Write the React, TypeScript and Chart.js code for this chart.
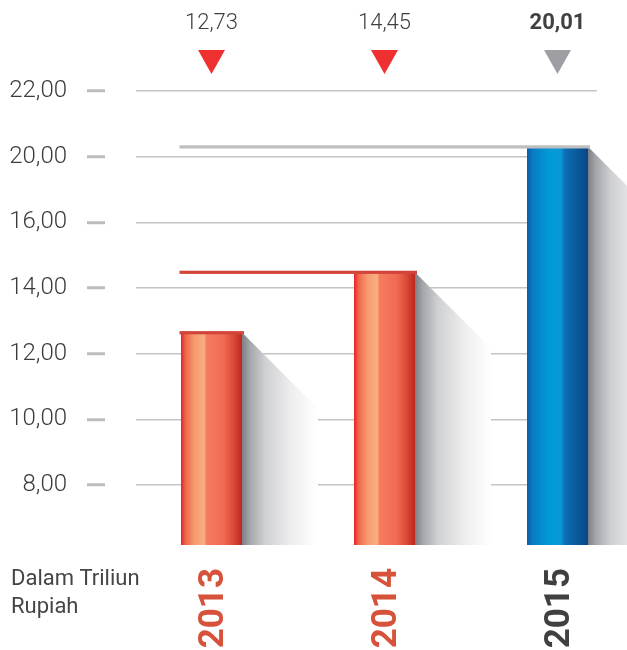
import React, { useEffect, useRef } from "react";
import { Chart, registerables } from "chart.js";

Chart.register(...registerables);

// ---- data ----
const years = [2013, 2014, 2015];
// bar heights, in the chart's (stylised) axis units
const barHeights = [12.64, 14.48, 18.3];
const valueLabels = ["12,73", "14,45", "20,01"];
const tickValues = [8, 10, 12, 14, 16, 18, 20];
const tickLabels = ["8,00", "10,00", "12,00", "14,00", "16,00", "20,00", "22,00"];
const unitLines = ["Dalam Triliun", "Rupiah"];

// ---- styles ----
const Y_MIN = 6.17;
const Y_MAX = 20;
const BAR_W = 61;
const FONT = "Roboto";
const yearColors = ["#d6523b", "#d6523b", "#404042"];
const markerColors = ["#ee3130", "#ee3130", "#9d9fa2"];
const lineColors = ["#d3453a", "#d3453a", "#bdbec0"];
const valueBold = [false, false, true];
const orangeStops: [number, string][] = [
  [0, "#e5232a"],
  [0.08, "#f06a4c"],
  [0.22, "#f69a6e"],
  [0.38, "#f9ae84"],
  [0.42, "#f47d5e"],
  [0.7, "#f06a52"],
  [0.86, "#da4a36"],
  [1, "#bd2620"],
];
const blueStops: [number, string][] = [
  [0, "#0a5ea4"],
  [0.1, "#0a7cc4"],
  [0.35, "#0099d8"],
  [0.55, "#0a98d6"],
  [0.62, "#0a70b5"],
  [1, "#0a4584"],
];

function barFill(c: any) {
  const chart = c.chart;
  const i = c.dataIndex;
  const xs = chart.scales && chart.scales.x;
  if (i === undefined || !xs || !chart.chartArea) return "#f47b5c";
  const cx = xs.getPixelForValue(years[i]);
  const g = chart.ctx.createLinearGradient(cx - BAR_W / 2, 0, cx + BAR_W / 2, 0);
  const stops = i === 2 ? blueStops : orangeStops;
  stops.forEach(([o, col]) => g.addColorStop(o, col));
  return g;
}

const decor = {
  id: "decor",
  beforeDatasetsDraw(chart: any) {
    const ctx = chart.ctx;
    const area = chart.chartArea;
    const meta = chart.getDatasetMeta(0);
    ctx.save();
    meta.data.forEach((bar: any) => {
      const right = bar.x + bar.width / 2;
      const W = 76;
      const g = ctx.createLinearGradient(right, 0, right + W, 0);
      g.addColorStop(0, "#7b7e83");
      g.addColorStop(0.1, "#a3a5a9");
      g.addColorStop(0.3, "#cfd0d2");
      g.addColorStop(0.65, "#eeeeef");
      g.addColorStop(1, "#ffffff");
      ctx.fillStyle = g;
      ctx.beginPath();
      ctx.moveTo(right, bar.y);
      ctx.lineTo(right + W, bar.y + W);
      ctx.lineTo(right + W, area.bottom);
      ctx.lineTo(right, area.bottom);
      ctx.closePath();
      ctx.fill();
    });
    ctx.restore();
  },
  afterDatasetsDraw(chart: any) {
    const ctx = chart.ctx;
    const meta = chart.getDatasetMeta(0);
    const first = meta.data[0];
    const left0 = first.x - first.width / 2 - 1.5;
    ctx.save();
    meta.data.forEach((bar: any, i: number) => {
      ctx.fillStyle = lineColors[i];
      ctx.fillRect(left0, bar.y - 1.5, bar.x + bar.width / 2 + 2 - left0, 3.2);
    });
    ctx.restore();
  },
  afterDraw(chart: any) {
    const ctx = chart.ctx;
    const meta = chart.getDatasetMeta(0);
    ctx.save();
    meta.data.forEach((bar: any, i: number) => {
      const cx = bar.x;
      ctx.fillStyle = "#404040";
      ctx.font = `${valueBold[i] ? "bold" : "300"} 22px ${FONT}`;
      ctx.textAlign = "center";
      ctx.textBaseline = "middle";
      ctx.fillText(valueLabels[i], cx, 23);
      ctx.fillStyle = markerColors[i];
      ctx.beginPath();
      ctx.moveTo(cx - 13.5, 50);
      ctx.lineTo(cx + 13.5, 50);
      ctx.lineTo(cx, 74);
      ctx.closePath();
      ctx.fill();
    });
    ctx.fillStyle = "#454545";
    ctx.font = `22px ${FONT}`;
    ctx.textAlign = "left";
    ctx.textBaseline = "alphabetic";
    unitLines.forEach((t, k) => ctx.fillText(t, 11, 585 + k * 28));
    ctx.restore();
  },
};

export default function App() {
  const ref = useRef<HTMLCanvasElement>(null);
  useEffect(() => {
    const canvas = ref.current;
    if (!canvas) return;
    const chart = new Chart(canvas, {
      type: "bar",
      data: {
        datasets: [
          {
            data: years.map((yr, i) => ({ x: yr, y: barHeights[i] })),
            backgroundColor: barFill,
            borderWidth: 0,
            barThickness: BAR_W,
            base: Y_MIN,
            inflateAmount: 0,
          } as any,
        ],
      },
      options: {
        animation: false,
        responsive: true,
        maintainAspectRatio: false,
        layout: { padding: { top: 91, right: 30, left: 0, bottom: 0 } },
        plugins: { legend: { display: false }, tooltip: { enabled: false } },
        scales: {
          x: {
            type: "linear",
            offset: false,
            min: 2012.5636,
            max: 2015.2283,
            grid: { display: false, offset: false },
            border: { display: false },
            afterBuildTicks: (s: any) => {
              s.ticks = years.map((v) => ({ value: v }));
            },
            ticks: {
              minRotation: 90,
              maxRotation: 90,
              autoSkip: false,
              padding: 15,
              labelOffset: 3,
              color: (c: any) => yearColors[c.index] || "#404042",
              font: { family: FONT, size: 35, weight: "bold" },
              callback: (v: any) => String(v),
            },
            afterFit: (s: any) => {
              s.height = 105;
            },
          } as any,
          y: {
            min: Y_MIN,
            max: Y_MAX,
            grid: {
              color: "#c4c4c4",
              lineWidth: 1.5,
              drawTicks: true,
              tickColor: "#bdbdbd",
              tickWidth: 3,
              tickLength: 49,
              tickBorderDash: [18, 60],
            },
            border: { display: false },
            afterBuildTicks: (s: any) => {
              s.ticks = tickValues.map((v) => ({ value: v }));
            },
            ticks: {
              padding: 20,
              color: "#3c3c3c",
              font: { family: FONT, size: 24, weight: "300" },
              callback: (v: any) => {
                const k = tickValues.indexOf(Number(v));
                return k >= 0 ? tickLabels[k] : "";
              },
            },
            afterFit: (s: any) => {
              s.width = 136;
            },
          } as any,
        },
      },
      plugins: [decor],
    });
    return () => chart.destroy();
  }, []);
  return (
    <div style={{ position: "absolute", left: 0, top: 0, width: 627, height: 650, background: "#fff" }}>
      <canvas ref={ref} />
    </div>
  );
}
